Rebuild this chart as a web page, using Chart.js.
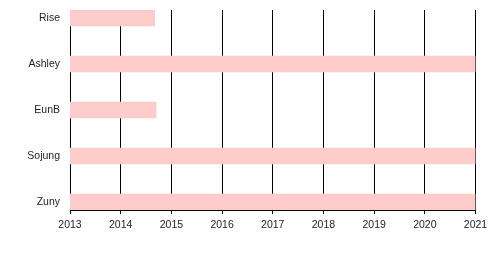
<!DOCTYPE html>
<html>
<head>
<meta charset="utf-8">
<script src="https://cdn.jsdelivr.net/npm/chart.js@4"></script>
<style>
html,body{margin:0;padding:0;background:#fff;}
#wrap{width:500px;height:275px;position:relative;}
</style>
</head>
<body>
<div id="wrap"><canvas id="c"></canvas></div>
<script>
const members = ['Rise', 'Ashley', 'EunB', 'Sojung', 'Zuny'];
const startYears = [2013, 2013, 2013, 2013, 2013];
const endYears = [2014.67, 2021, 2014.7, 2021, 2021];
const yearTicks = [2013, 2014, 2015, 2016, 2017, 2018, 2019, 2020, 2021];

const half = 8 / 46;
const data = members.map((m, i) => ({ y: i, x: [startYears[i], endYears[i]] }));

new Chart(document.getElementById('c'), {
  type: 'bar',
  data: {
    datasets: [{
      data: data,
      backgroundColor: 'rgb(255,204,204)',
      borderWidth: 0,
      barThickness: 16
    }]
  },
  options: {
    indexAxis: 'y',
    responsive: true,
    maintainAspectRatio: false,
    animation: false,
    layout: { padding: { top: 10, left: 0, right: 24.5, bottom: 0 } },
    plugins: { legend: { display: false }, tooltip: { enabled: false } },
    scales: {
      x: {
        type: 'linear',
        min: yearTicks[0],
        max: yearTicks[yearTicks.length - 1],
        afterBuildTicks: s => { s.ticks = yearTicks.map(v => ({ value: v })); },
        grid: { color: '#000', lineWidth: 1, tickLength: 4, drawTicks: true },
        border: { display: true, color: '#000', width: 1 },
        ticks: {
          color: '#222',
          font: { family: 'Liberation Sans, Arial, sans-serif', size: 10.5 },
          padding: 5,
          maxRotation: 0,
          callback: v => String(v)
        },
        afterFit: s => { s.height = 65; }
      },
      y: {
        type: 'linear',
        reverse: true,
        offset: false,
        min: -half,
        max: members.length - 1 + half,
        afterBuildTicks: s => { s.ticks = members.map((_, i) => ({ value: i })); },
        grid: { display: false, drawTicks: false, offset: false },
        border: { display: true, color: '#000', width: 1 },
        ticks: {
          color: '#222',
          font: { family: 'Liberation Sans, Arial, sans-serif', size: 10.5 },
          padding: 10,
          callback: v => members[v]
        },
        afterFit: s => { s.width = 70; s.paddingTop = 0; s.paddingBottom = 0; }
      }
    }
  }
});
</script>
</body>
</html>
